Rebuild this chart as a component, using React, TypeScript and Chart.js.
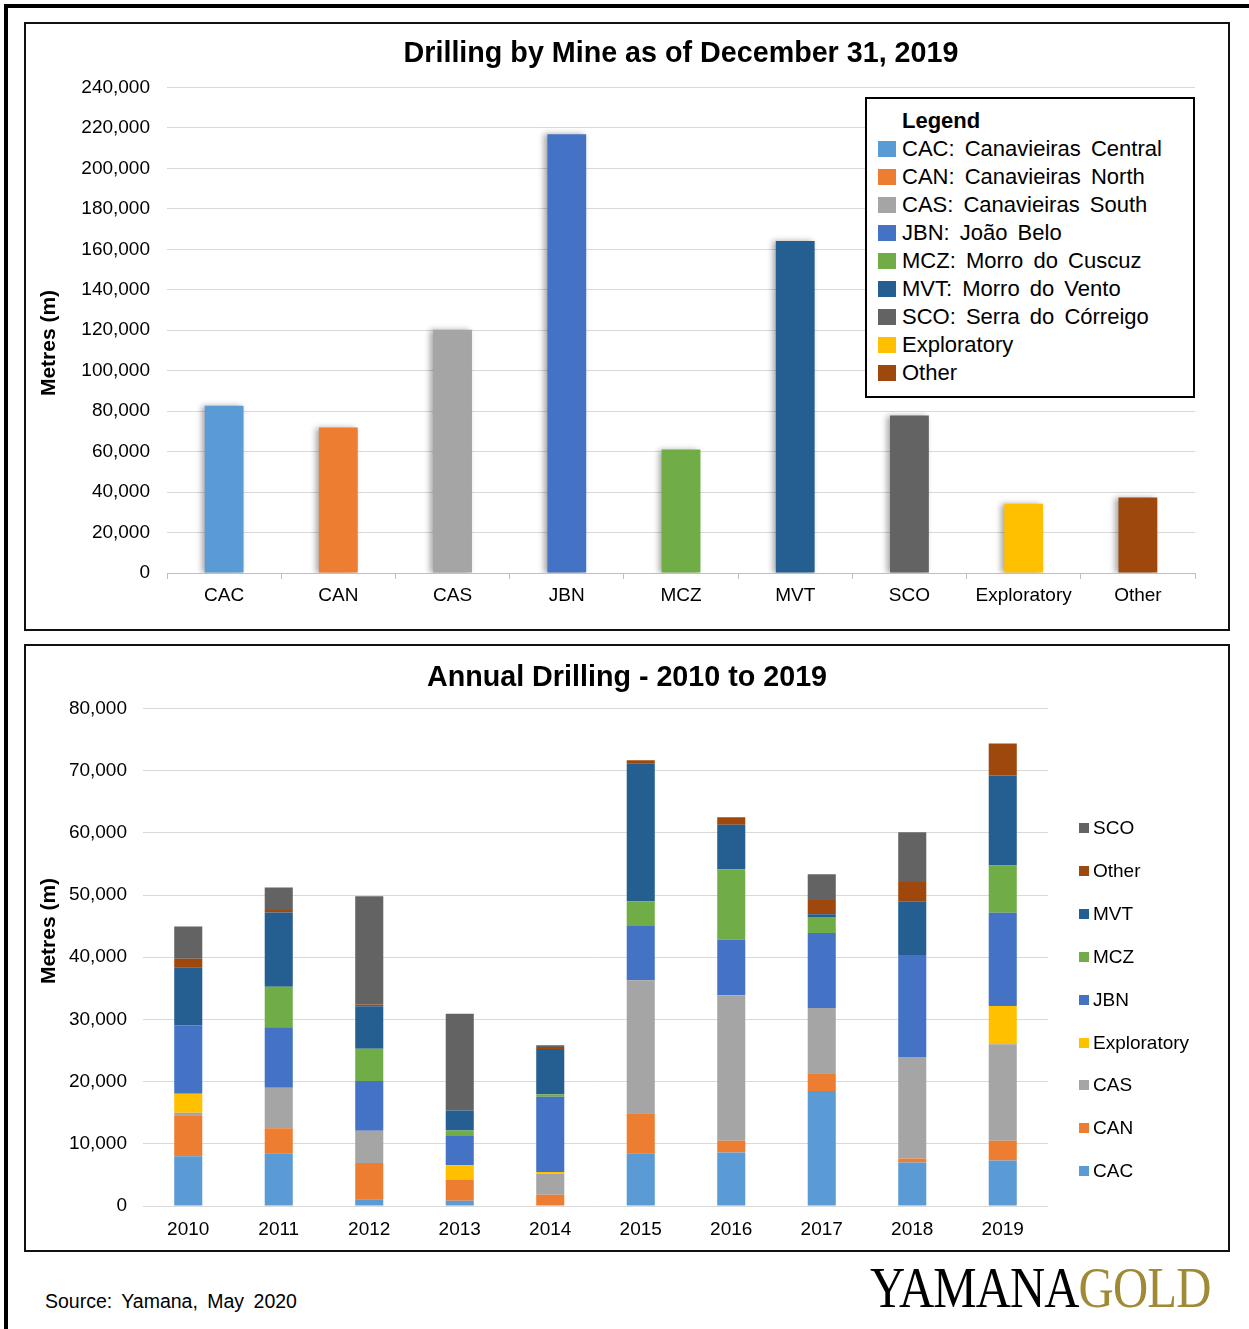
import React, { useEffect, useRef } from 'react';
import { Chart, registerables } from 'chart.js';

Chart.register(...registerables);

const FONT = "'Liberation Sans', Arial, Helvetica, sans-serif";

// ---- Top chart: total drilling by mine ----
const mineCategories = ['CAC', 'CAN', 'CAS', 'JBN', 'MCZ', 'MVT', 'SCO', 'Exploratory', 'Other'];
const mineMetres = [82700, 71900, 120200, 216900, 61000, 164100, 77800, 34200, 37300];
const mineColors = ['#5B9BD5', '#ED7D31', '#A5A5A5', '#4472C4', '#70AD47', '#255E91', '#636363', '#FFC000', '#9E480E'];
const mineLegendLabels = [
  'CAC: Canavieiras Central',
  'CAN: Canavieiras North',
  'CAS: Canavieiras South',
  'JBN: João Belo',
  'MCZ: Morro do Cuscuz',
  'MVT: Morro do Vento',
  'SCO: Serra do Córreigo',
  'Exploratory',
  'Other',
];
const topTicks = [0, 20000, 40000, 60000, 80000, 100000, 120000, 140000, 160000, 180000, 200000, 220000, 240000];

// ---- Bottom chart: annual drilling (stacked) ----
const years = ['2010', '2011', '2012', '2013', '2014', '2015', '2016', '2017', '2018', '2019'];
const cacByYear = [8000, 8500, 1100, 850, 0, 8500, 8600, 18500, 7000, 7300];
const canByYear = [6600, 4000, 5800, 3400, 1800, 6400, 1900, 2850, 650, 3200];
const casByYear = [400, 6500, 5200, 0, 3400, 21400, 23400, 10500, 16300, 15500];
const exploratoryByYear = [3050, 0, 0, 2300, 270, 0, 0, 0, 0, 6150];
const jbnByYear = [11000, 9750, 8000, 4700, 12100, 8700, 8900, 12050, 16400, 15000];
const mczByYear = [0, 6500, 5200, 900, 380, 4000, 11350, 2550, 0, 7600];
const mvtByYear = [9350, 11950, 6800, 3200, 7300, 22200, 7150, 450, 8550, 14450];
const otherByYear = [1350, 400, 300, 0, 320, 450, 1200, 2300, 3200, 5150];
const scoByYear = [5200, 3600, 17400, 15550, 270, 0, 0, 4150, 8000, 0];

const annualSeries = [
  { label: 'CAC', data: cacByYear, color: '#5B9BD5' },
  { label: 'CAN', data: canByYear, color: '#ED7D31' },
  { label: 'CAS', data: casByYear, color: '#A5A5A5' },
  { label: 'Exploratory', data: exploratoryByYear, color: '#FFC000' },
  { label: 'JBN', data: jbnByYear, color: '#4472C4' },
  { label: 'MCZ', data: mczByYear, color: '#70AD47' },
  { label: 'MVT', data: mvtByYear, color: '#255E91' },
  { label: 'Other', data: otherByYear, color: '#9E480E' },
  { label: 'SCO', data: scoByYear, color: '#636363' },
];

const fmt = (v: number | string) => Number(v).toLocaleString('en-US');

const barShadow = {
  id: 'barShadow',
  beforeDatasetsDraw(chart: any) {
    const c = chart.ctx;
    c.save();
    c.shadowColor = 'rgba(0,0,0,0.35)';
    c.shadowBlur = 6;
    c.shadowOffsetX = -3;
    c.shadowOffsetY = 0;
  },
  afterDatasetsDraw(chart: any) {
    chart.ctx.restore();
  },
};

function TopChart() {
  const ref = useRef<HTMLCanvasElement | null>(null);
  useEffect(() => {
    if (!ref.current) return;
    const chart = new Chart(ref.current, {
      type: 'bar',
      data: {
        labels: mineCategories,
        datasets: [
          {
            label: 'Metres',
            data: mineMetres,
            backgroundColor: mineColors,
            borderWidth: 0,
            categoryPercentage: 1,
            barPercentage: 0.34,
          },
        ],
      },
      plugins: [barShadow],
      options: {
        responsive: false,
        animation: false,
        devicePixelRatio: 1,
        layout: { padding: { left: 0, right: 33, top: 0, bottom: 0 } },
        plugins: {
          legend: { display: false },
          tooltip: { enabled: false },
          title: {
            display: true,
            text: 'Drilling by Mine as of December 31, 2019',
            color: '#000',
            fullSize: false,
            font: { family: FONT, size: 28.7, weight: 'bold', lineHeight: 1.2 },
            padding: { top: 13, bottom: 16 },
          },
        },
        scales: {
          x: {
            offset: true,
            grid: { display: true, drawOnChartArea: false, drawTicks: true, tickLength: 6, offset: true, color: '#bfbfbf' },
            border: { display: true, color: '#bfbfbf', width: 1 },
            ticks: { color: '#000', font: { family: FONT, size: 19 }, padding: 5, maxRotation: 0, autoSkip: false },
            afterFit: (s: any) => { s.height = 56; },
          },
          y: {
            min: 0,
            max: 240000,
            afterBuildTicks: (s: any) => { s.ticks = topTicks.map((v) => ({ value: v })); },
            grid: { color: '#d9d9d9', drawTicks: false },
            border: { display: false },
            ticks: { color: '#000', font: { family: FONT, size: 19 }, padding: 17, callback: (v: any) => fmt(v) },
            afterFit: (s: any) => { s.width = 141; },
          },
        },
      } as any,
    });
    return () => chart.destroy();
  }, []);
  return <canvas ref={ref} width={1202} height={605} style={{ position: 'absolute', left: 0, top: 0, width: 1202, height: 605 }} />;
}

function BottomChart() {
  const ref = useRef<HTMLCanvasElement | null>(null);
  useEffect(() => {
    if (!ref.current) return;
    const chart = new Chart(ref.current, {
      type: 'bar',
      data: {
        labels: years,
        datasets: annualSeries.map((s) => ({
          label: s.label,
          data: s.data,
          backgroundColor: s.color,
          borderWidth: 0,
          categoryPercentage: 1,
          barPercentage: 0.31,
          yAxisID: 'y',
        })),
      },
      options: {
        responsive: false,
        animation: false,
        devicePixelRatio: 1,
        layout: { padding: 0 },
        plugins: {
          legend: { display: false },
          tooltip: { enabled: false },
          title: {
            display: true,
            text: 'Annual Drilling - 2010 to 2019',
            color: '#000',
            fullSize: true,
            font: { family: FONT, size: 28.7, weight: 'bold', lineHeight: 1.2 },
            padding: { top: 15, bottom: 13 },
          },
        },
        scales: {
          x: {
            stacked: true,
            grid: { display: false },
            border: { display: false },
            ticks: { color: '#000', font: { family: FONT, size: 19 }, padding: 4, maxRotation: 0, autoSkip: false },
            afterFit: (s: any) => { s.height = 44; },
          },
          y: {
            stacked: true,
            min: 0,
            max: 80000,
            ticks: { stepSize: 10000, color: '#000', font: { family: FONT, size: 19 }, padding: 16, callback: (v: any) => fmt(v) },
            grid: { color: '#d9d9d9', drawTicks: false },
            border: { display: false },
            afterFit: (s: any) => { s.width = 117; },
          },
          yLegendSpace: {
            position: 'right',
            display: true,
            grid: { display: false, drawTicks: false },
            border: { display: false },
            ticks: { display: false },
            afterFit: (s: any) => { s.width = 180; },
          },
        },
      } as any,
    });
    return () => chart.destroy();
  }, []);
  return <canvas ref={ref} width={1202} height={604} style={{ position: 'absolute', left: 0, top: 0, width: 1202, height: 604 }} />;
}

function YTitle({ cx, cy }: { cx: number; cy: number }) {
  return (
    <div
      style={{
        position: 'absolute',
        left: cx - 80,
        top: cy - 13,
        width: 160,
        height: 26,
        lineHeight: '26px',
        textAlign: 'center',
        fontSize: 21,
        fontWeight: 'bold',
        whiteSpace: 'nowrap',
        transform: 'rotate(-90deg)',
        transformOrigin: '50% 50%',
      }}
    >
      Metres (m)
    </div>
  );
}

export default function App() {
  const bottomLegend = [...annualSeries].reverse();
  return (
    <div style={{ position: 'fixed', left: 0, top: 0, width: 1249, height: 1329, background: '#fff', overflow: 'hidden', fontFamily: FONT, color: '#000' }}>
      <div style={{ position: 'absolute', left: 4, top: 4, width: 1300, height: 1400, border: '4px solid #000', boxSizing: 'border-box' }} />

      <div style={{ position: 'absolute', left: 24, top: 22, width: 1206, height: 609, border: '2px solid #111', boxSizing: 'border-box', background: '#fff' }}>
        <TopChart />
      </div>
      <YTitle cx={48} cy={343} />

      <div style={{ position: 'absolute', left: 865, top: 97, width: 330, height: 301, border: '2px solid #000', boxSizing: 'border-box', background: '#fff' }}>
        <div style={{ position: 'absolute', left: 35, top: 22 - 13, height: 26, lineHeight: '26px', fontSize: 22, fontWeight: 'bold', whiteSpace: 'nowrap' }}>Legend</div>
        {mineLegendLabels.map((lab, i) => (
          <React.Fragment key={lab}>
            <div style={{ position: 'absolute', left: 11, top: 50 + i * 28 - 8, width: 18, height: 16, background: mineColors[i] }} />
            <div style={{ position: 'absolute', left: 35, top: 50 + i * 28 - 13, height: 26, lineHeight: '26px', fontSize: 22, whiteSpace: 'nowrap', wordSpacing: 4 }}>{lab}</div>
          </React.Fragment>
        ))}
      </div>

      <div style={{ position: 'absolute', left: 24, top: 644, width: 1206, height: 608, border: '2px solid #111', boxSizing: 'border-box', background: '#fff' }}>
        <BottomChart />
      </div>
      <YTitle cx={48} cy={931} />

      {bottomLegend.map((s, i) => (
        <React.Fragment key={s.label}>
          <div style={{ position: 'absolute', left: 1079, top: 828 + i * 42.9 - 5, width: 10, height: 10, background: s.color }} />
          <div style={{ position: 'absolute', left: 1093, top: 828 + i * 42.9 - 12, height: 24, lineHeight: '24px', fontSize: 19, whiteSpace: 'nowrap' }}>{s.label}</div>
        </React.Fragment>
      ))}

      <div style={{ position: 'absolute', left: 45, top: 1301 - 12, height: 24, lineHeight: '24px', fontSize: 19.5, whiteSpace: 'nowrap', wordSpacing: 4 }}>Source: Yamana, May 2020</div>

      <div style={{ position: 'absolute', left: 870, top: 1260, height: 56, lineHeight: '56px', fontSize: 56, whiteSpace: 'nowrap', fontFamily: "'Liberation Serif', 'Times New Roman', serif", transform: 'scaleX(0.87)', transformOrigin: 'left top', letterSpacing: -1 }}>
        <span style={{ color: '#000' }}>YAMANA</span>
        <span style={{ color: '#A08A35' }}>GOLD</span>
      </div>
    </div>
  );
}
